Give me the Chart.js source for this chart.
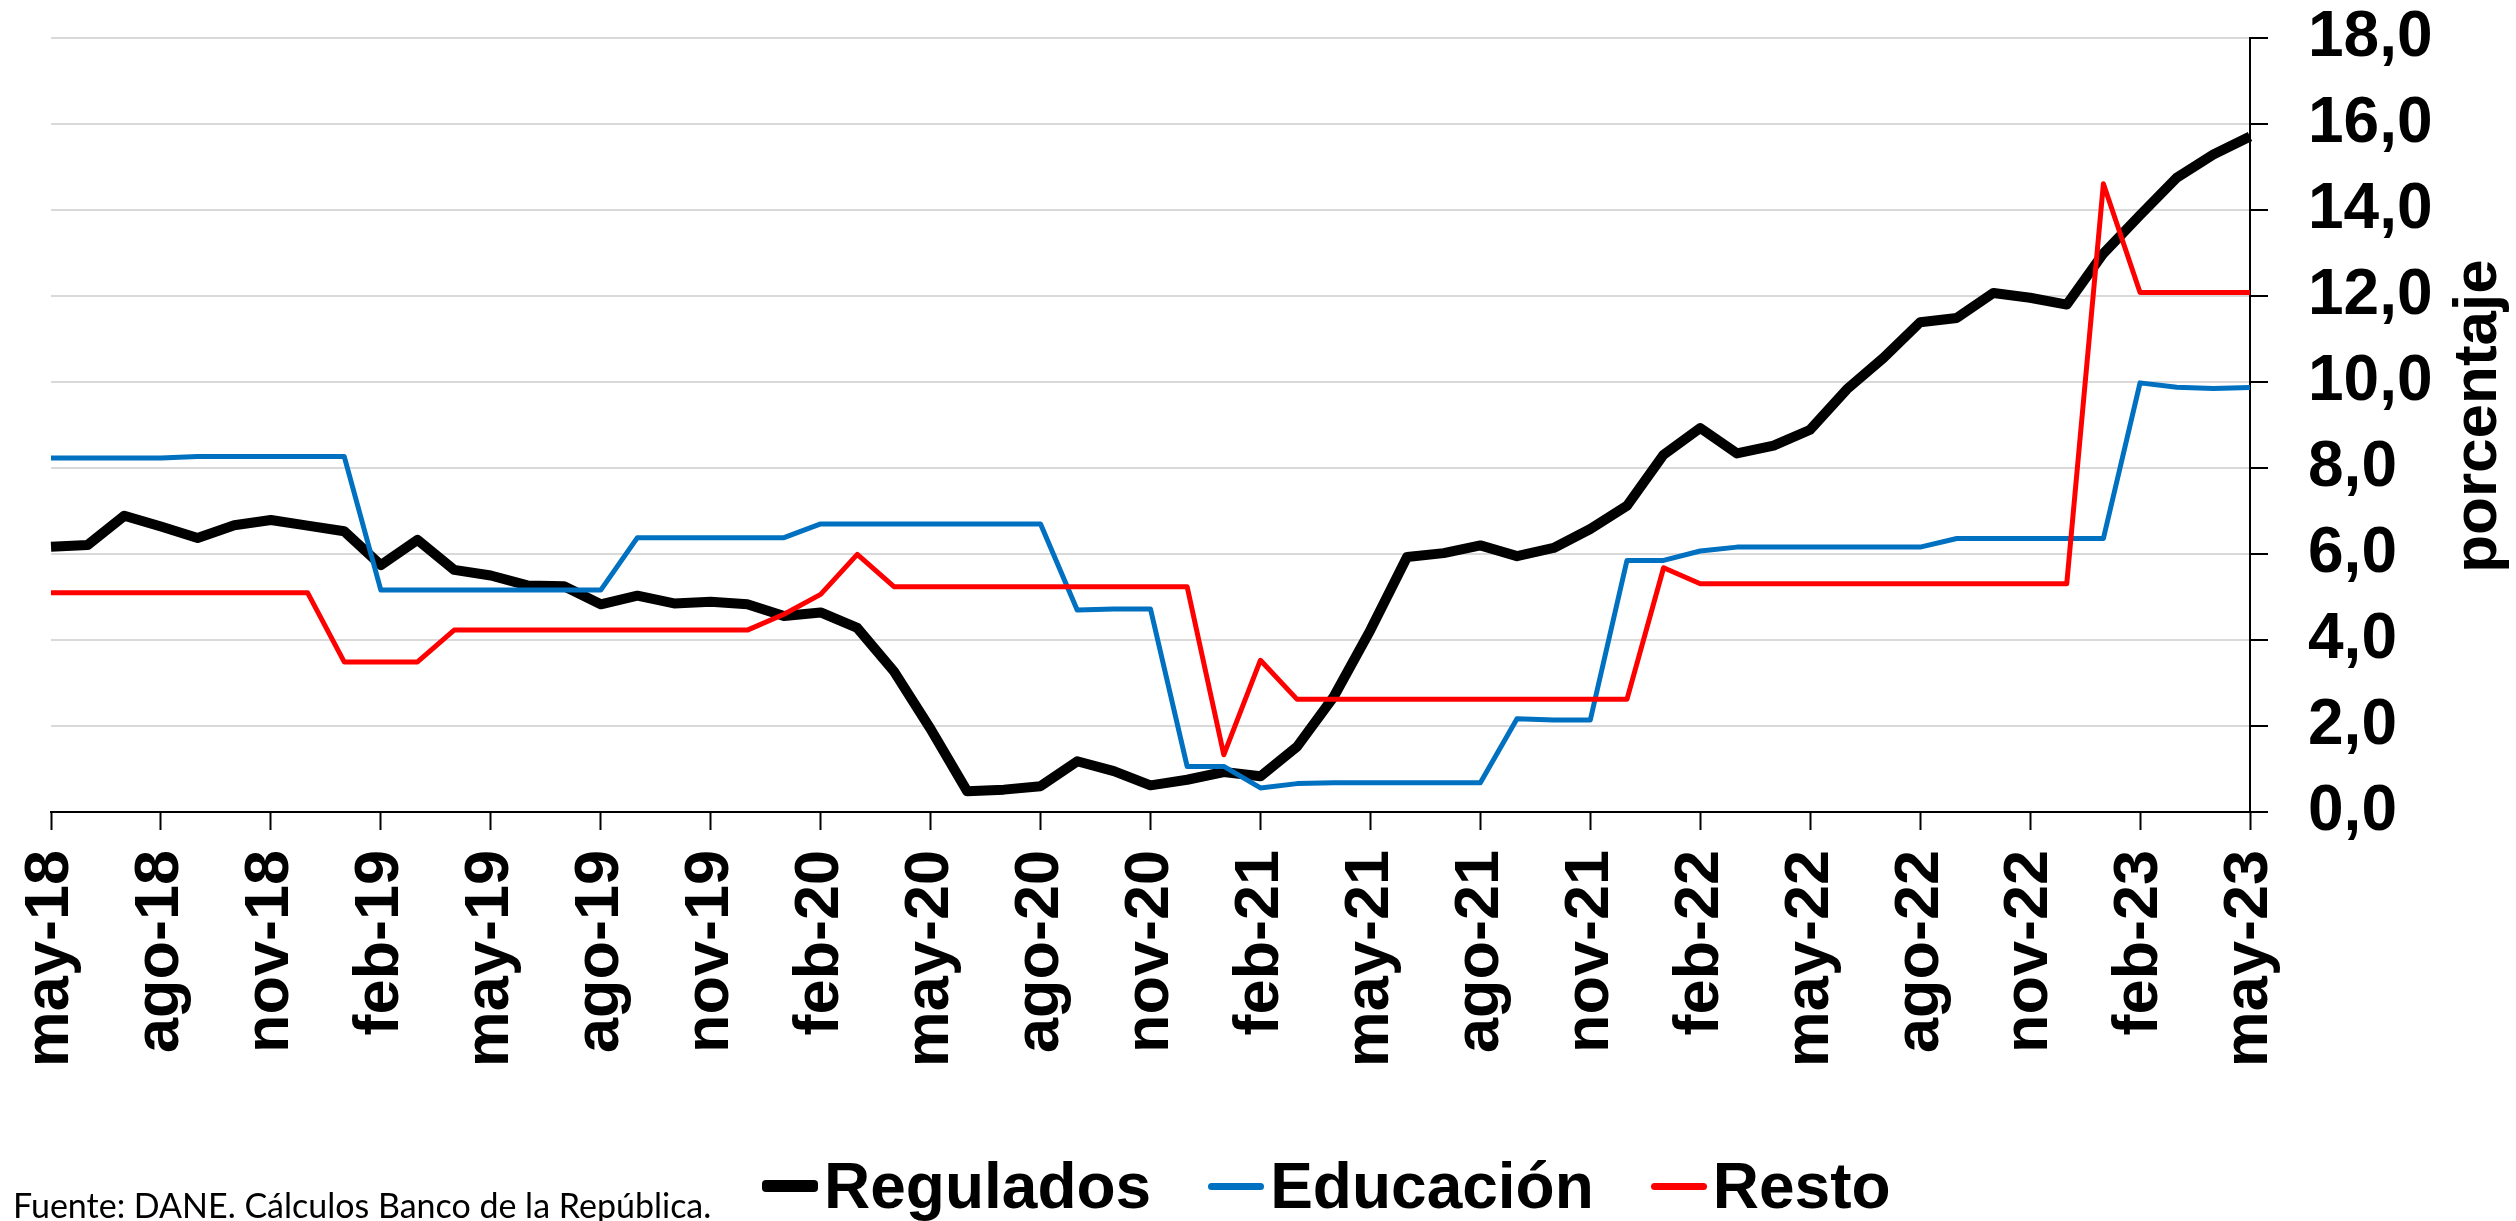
<!DOCTYPE html>
<html lang="es">
<head>
<meta charset="utf-8">
<title>Regulados, Educación y Resto</title>
<script src="https://cdn.jsdelivr.net/npm/chart.js@4.4.0/dist/chart.umd.min.js"></script>
<style>
  html, body { margin: 0; padding: 0; background: #fff; }
  #wrap { position: relative; width: 2516px; height: 1221px; overflow: hidden; }
  #grafico { position: absolute; left: 0; top: 0; }
  .fuente {
    position: absolute; left: 13px; top: 1184px;
    font: 34px Lato, 'Open Sans', sans-serif; color: #000; white-space: nowrap;
  }
  .leyenda {
    position: absolute; left: 762px; top: 1149px;
    display: flex; align-items: center; gap: 57px;
    font: bold 64px 'Liberation Sans', Arial, sans-serif; color: #000;
  }
  .item { display: flex; align-items: center; gap: 6px; }
  .linea { width: 56px; border-radius: 4px; }
</style>
</head>
<body>
<div id="wrap">
  <canvas id="grafico" width="2516" height="1221"></canvas>
  <div class="fuente">Fuente: DANE. Cálculos Banco de la República.</div>
  <div class="leyenda" id="leyenda"></div>
</div>

<script>
// ── Datos ──────────────────────────────────────────────────
const MESES_CORTOS = ['ene','feb','mar','abr','may','jun','jul','ago','sep','oct','nov','dic'];

// may-18 ... may-23, mensual
const MESES = [];
for (let a = 18; a <= 23; a++) {
  for (let m = 0; m < 12; m++) {
    if ((a === 18 && m < 4) || (a === 23 && m > 4)) continue;
    MESES.push(MESES_CORTOS[m] + '-' + a);
  }
}

const SERIES = ['Regulados', 'Educación', 'Resto'];
const COLORES = ['#000000', '#0070c0', '#ff0000'];
const GROSOR = [10, 5, 5];

const regulados = [
  6.17, 6.21, 6.89, 6.64, 6.37, 6.67, 6.79, 6.66, 6.53, 5.74,
  6.33, 5.63, 5.50, 5.27, 5.25, 4.83, 5.03, 4.85, 4.89, 4.83,
  4.56, 4.64, 4.28, 3.27, 1.93, 0.48, 0.52, 0.60, 1.18, 0.95,
  0.62, 0.75, 0.93, 0.83, 1.52, 2.68, 4.23, 5.93, 6.02, 6.20,
  5.95, 6.14, 6.58, 7.12, 8.31, 8.93, 8.34, 8.52, 8.89, 9.83,
  10.56, 11.39, 11.49, 12.07, 11.96, 11.80, 12.99, 13.88, 14.75, 15.29, 15.71
];

const educacion = [
  8.23, 8.23, 8.23, 8.23, 8.27, 8.27, 8.27, 8.27, 8.27, 5.16,
  5.16, 5.16, 5.16, 5.16, 5.16, 5.16, 6.38, 6.38, 6.38, 6.38,
  6.38, 6.70, 6.70, 6.70, 6.70, 6.70, 6.70, 6.70, 4.70, 4.72,
  4.72, 1.06, 1.06, 0.56, 0.66, 0.68, 0.68, 0.68, 0.68, 0.68,
  2.17, 2.14, 2.14, 5.85, 5.85, 6.07, 6.16, 6.16, 6.16, 6.16,
  6.16, 6.16, 6.36, 6.36, 6.36, 6.36, 6.36, 9.98, 9.88, 9.85, 9.87
];

const resto = [
  5.10, 5.10, 5.10, 5.10, 5.10, 5.10, 5.10, 5.10, 3.49, 3.49,
  3.49, 4.23, 4.23, 4.23, 4.23, 4.23, 4.23, 4.23, 4.23, 4.23,
  4.60, 5.06, 5.99, 5.24, 5.24, 5.24, 5.24, 5.24, 5.24, 5.24,
  5.24, 5.24, 1.33, 3.53, 2.62, 2.62, 2.62, 2.62, 2.62, 2.62,
  2.62, 2.62, 2.62, 2.62, 5.68, 5.31, 5.31, 5.31, 5.31, 5.31,
  5.31, 5.31, 5.31, 5.31, 5.31, 5.31, 14.61, 12.08, 12.08, 12.08, 12.08
];

const VALORES = [regulados, educacion, resto];
const TITULO_Y = 'porcentaje';

// ── Config ────────────────────────────────────────────────
const FUENTE = "'Liberation Sans', Arial, sans-serif";

// título del eje y, leído de abajo hacia arriba
const tituloEje = {
  id: 'tituloEje',
  afterDraw(chart) {
    const { ctx, chartArea } = chart;
    ctx.save();
    ctx.translate(2496, (chartArea.top + chartArea.bottom) / 2 - 9);
    ctx.rotate(-Math.PI / 2);
    ctx.font = 'bold 62px ' + FUENTE;
    ctx.fillStyle = '#000';
    ctx.textAlign = 'center';
    ctx.textBaseline = 'alphabetic';
    ctx.fillText(TITULO_Y, 0, 0);
    ctx.restore();
  }
};

new Chart(document.getElementById('grafico'), {
  type: 'line',
  data: {
    labels: MESES,
    datasets: SERIES.map((nombre, i) => ({
      label: nombre,
      data: VALORES[i],
      borderColor: COLORES[i],
      backgroundColor: COLORES[i],
      borderWidth: GROSOR[i],
      borderJoinStyle: 'round',
      pointRadius: 0,
      tension: 0,
      fill: false,
      order: 2 - i,
    }))
  },
  options: {
    responsive: false,
    animation: false,
    devicePixelRatio: 1,
    layout: { padding: { top: 0, left: 51, right: 0, bottom: 0 } },
    plugins: {
      legend: { display: false },
      tooltip: { enabled: false }
    },
    scales: {
      x: {
        type: 'category',
        offset: false,
        border: { color: '#000', width: 2 },
        grid: {
          drawOnChartArea: false,
          drawTicks: true,
          tickLength: 18,
          tickWidth: 2,
          tickColor: (c) => c.index % 3 === 0 ? '#000' : 'rgba(0,0,0,0)'
        },
        ticks: {
          autoSkip: false,
          minRotation: 90,
          maxRotation: 90,
          padding: 20,
          color: '#000',
          font: { family: FUENTE, size: 63, weight: 'bold' },
          callback(v, i) { return i % 3 === 0 ? this.getLabelForValue(v) : ''; }
        },
        afterFit(s) { s.height = 409; }
      },
      y: {
        position: 'right',
        min: 0,
        max: 18,
        border: { color: '#000', width: 2 },
        grid: { color: '#d9d9d9', lineWidth: 2, tickColor: '#000', tickLength: 18, tickWidth: 2 },
        ticks: {
          stepSize: 2,
          padding: 40,
          color: '#000',
          font: { family: FUENTE, size: 64, weight: 'bold' },
          callback: (v) => v.toFixed(1).replace('.', ',')
        },
        afterFit(s) {
          s.width = 266;
          s.paddingTop = 38;
          s.paddingBottom = 0;
        }
      }
    }
  },
  plugins: [tituloEje]
});

// ── Leyenda ───────────────────────────────────────────────
document.getElementById('leyenda').innerHTML = SERIES.map((nombre, i) => `
  <div class="item">
    <span class="linea" style="height:${GROSOR[i] + 2}px;background:${COLORES[i]}"></span>
    <span>${nombre}</span>
  </div>`).join('');
</script>
</body>
</html>
